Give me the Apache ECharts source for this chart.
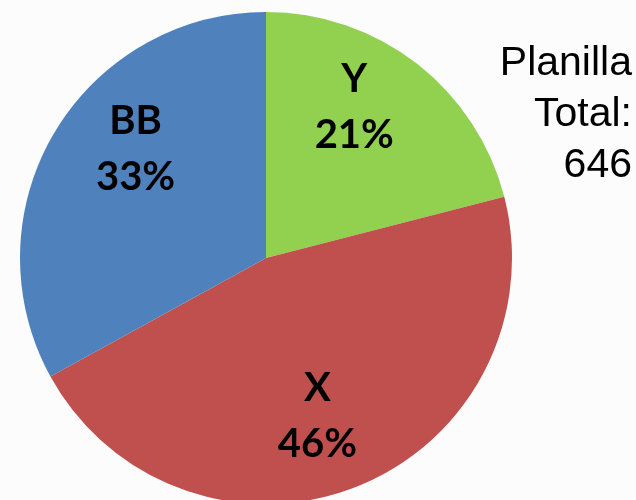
<!DOCTYPE html>
<html>
<head>
<meta charset="utf-8">
<style>
  html, body { margin: 0; padding: 0; background: #fcfcfc; }
  #chart { width: 636px; height: 500px; }
</style>
<script src="https://cdn.jsdelivr.net/npm/echarts@6/dist/echarts.min.js"></script>
</head>
<body>
<div id="chart"></div>
<script>
// Staff distribution by group (percent of the total payroll)
const categories = ['Y', 'X', 'BB'];
const shares = [21, 46, 33];
const sliceColors = ['#92D050', '#C0504D', '#4F81BD'];
// Nudge each label outward from the default inner position
const labelOffsets = [[11, -51], [5, 41], [-22, -45]];
const totalNoteLines = ['Planilla', 'Total:', '646'];

const chart = echarts.init(document.getElementById('chart'), null, { renderer: 'canvas' });

chart.setOption({
  backgroundColor: '#fcfcfc',
  animation: false,
  // Right-aligned side note, one line per element
  graphic: totalNoteLines.map((line, i) => ({
    type: 'text',
    right: 4,
    top: 43 + i * 51,
    style: {
      text: line,
      font: 'normal 41px "Liberation Sans", Arial, sans-serif',
      fill: '#000'
    }
  })),
  series: [{
    type: 'pie',
    center: [266, 258],
    radius: 246,
    startAngle: 90,
    clockwise: true,
    avoidLabelOverlap: false,
    labelLine: { show: false },
    itemStyle: { borderWidth: 0 },
    emphasis: { disabled: true },
    label: {
      show: true,
      position: 'inside',
      formatter: p => p.name + '\n' + p.value + '%',
      fontFamily: 'Lato, sans-serif',
      fontWeight: 'bold',
      fontSize: 40,
      lineHeight: 56,
      color: '#000'
    },
    data: categories.map((name, i) => ({
      name: name,
      value: shares[i],
      itemStyle: { color: sliceColors[i] },
      label: { offset: labelOffsets[i] }
    }))
  }]
});
</script>
</body>
</html>
